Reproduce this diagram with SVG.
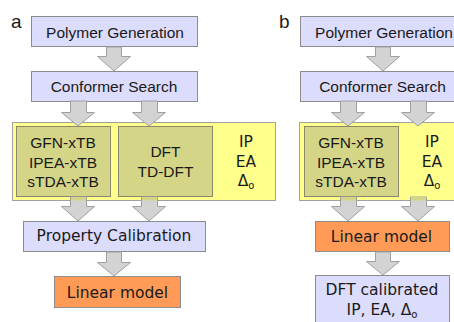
<svg xmlns="http://www.w3.org/2000/svg" width="454" height="322" viewBox="0 0 454 322">
<style>
.lav{fill:#DCDCFC;stroke:#8C8C8C;stroke-width:1}
.org{fill:#FF9A57;stroke:#8C8C8C;stroke-width:1}
.yel{fill:#FFFF8C;stroke:#A0A0A0;stroke-width:1}
.olv{fill:#D5D588;stroke:#8A8A6A;stroke-width:1}
.arr{fill:#D3D3D3;stroke:#A0A0A0;stroke-width:1}
.sh{fill:#D5D588;stroke:none}
.ar{font-family:"Liberation Sans",Arial,sans-serif;font-size:15.5px;fill:#1a1a1a;text-anchor:middle}
.vd{font-family:"DejaVu Sans",Verdana,sans-serif;font-size:15.5px;fill:#1a1a1a;text-anchor:middle}
.lbl{font-family:"Liberation Sans",Arial,sans-serif;font-size:19px;fill:#1a1a1a}
.sub{font-size:10px}
</style>
<rect width="454" height="322" fill="#FFFFFF"/>

<text class="lbl" x="11" y="28">a</text>
<text class="lbl" x="279" y="28">b</text>

<!-- panel a -->
<g id="a-polymer"><rect class="lav" x="31.5" y="16.5" width="166" height="30"/><text class="ar" x="115" y="38">Polymer Generation</text></g>
<g id="a-conformer"><rect class="lav" x="31.5" y="71.5" width="166" height="30"/><text class="ar" x="114" y="92">Conformer Search</text></g>
<g id="a-methods">
<rect class="yel" x="12.5" y="122.5" width="263" height="78"/>
<g id="a-xtb"><rect class="olv" x="16.5" y="126.5" width="94" height="70"/>
<text class="ar" x="63" y="148">GFN-xTB</text><text class="ar" x="63" y="167.5">IPEA-xTB</text><text class="ar" x="63" y="187">sTDA-xTB</text></g>
<g id="a-dft"><rect class="olv" x="118.5" y="126.5" width="94" height="70"/>
<text class="ar" x="165.5" y="157">DFT</text><text class="ar" x="165.5" y="176.5">TD-DFT</text></g>
<g id="a-props"><text class="vd" x="246" y="147">IP</text><text class="vd" x="246" y="167">EA</text><text class="vd" x="246" y="186">Δ<tspan class="sub" dy="3">o</tspan></text></g>
</g>
<g id="a-calib"><rect class="lav" x="23.5" y="221.5" width="182" height="30"/><text class="vd" x="114" y="241">Property Calibration</text></g>
<g id="a-linear"><rect class="org" x="54.5" y="276.5" width="126" height="31"/><text class="vd" x="117.5" y="297.5">Linear model</text></g>

<!-- panel b -->
<g id="b-polymer"><rect class="lav" x="300.5" y="16.5" width="170" height="30"/><text class="ar" x="384" y="38">Polymer Generation</text></g>
<g id="b-conformer"><rect class="lav" x="300.5" y="71.5" width="170" height="30"/><text class="ar" x="382.5" y="92">Conformer Search</text></g>
<g id="b-methods">
<rect class="yel" x="299.5" y="122.5" width="170" height="78"/>
<g id="b-xtb"><rect class="olv" x="304.5" y="126.5" width="94" height="70"/>
<text class="ar" x="351" y="148">GFN-xTB</text><text class="ar" x="351" y="167.5">IPEA-xTB</text><text class="ar" x="351" y="187">sTDA-xTB</text></g>
<g id="b-props"><text class="vd" x="432" y="147">IP</text><text class="vd" x="432" y="167">EA</text><text class="vd" x="432" y="186">Δ<tspan class="sub" dy="3">o</tspan></text></g>
</g>
<g id="b-linear"><rect class="org" x="315.5" y="221.5" width="134" height="30"/><text class="vd" x="381.5" y="242">Linear model</text></g>
<g id="b-dftcal"><rect class="lav" x="315.5" y="275.5" width="134" height="60"/>
<text class="vd" x="382" y="295">DFT calibrated</text><text class="vd" x="382" y="315">IP, EA, Δ<tspan class="sub" dy="3">o</tspan></text></g>

<!-- connectors -->
<g id="connectors">
<path class="arr" d="M106.5,47 H121.5 V56.5 H130.5 L114,71 L97.5,56.5 H106.5 Z"/>
<path class="arr" d="M70.5,101 H86.5 V112.5 H94.5 L78,126 L61.5,112.5 H70.5 Z"/>
<path class="arr" d="M141.5,101 H157.5 V112.5 H165.5 L149,126 L132.5,112.5 H141.5 Z"/>
<path class="arr" d="M70.5,197 H86.5 V206.5 H94.5 L78,221 L61.5,206.5 H70.5 Z"/>
<path class="arr" d="M141.5,197 H157.5 V206.5 H165.5 L149,221 L132.5,206.5 H141.5 Z"/>
<rect class="sh" x="71" y="197" width="15" height="3.5"/>
<rect class="sh" x="142" y="197" width="15" height="3.5"/>
<path class="arr" d="M106.5,252 H121.5 V262.5 H130.5 L114,276 L97.5,262.5 H106.5 Z"/>

<path class="arr" d="M375.5,47 H390.5 V56.5 H399.5 L383,71 L366.5,56.5 H375.5 Z"/>
<path class="arr" d="M340.5,101 H356.5 V112.5 H364.5 L348,126 L331.5,112.5 H340.5 Z"/>
<path class="arr" d="M410.5,101 H426.5 V112.5 H434.5 L418,126 L401.5,112.5 H410.5 Z"/>
<path class="arr" d="M340.5,197 H356.5 V206.5 H364.5 L348,221 L331.5,206.5 H340.5 Z"/>
<path class="arr" d="M410.5,197 H426.5 V206.5 H434.5 L418,221 L401.5,206.5 H410.5 Z"/>
<rect class="sh" x="341" y="197" width="15" height="3.5"/>
<rect class="sh" x="411" y="197" width="15" height="3.5"/>
<path class="arr" d="M375.5,252 H390.5 V261.5 H399.5 L383,275 L366.5,261.5 H375.5 Z"/>
</g>
</svg>
